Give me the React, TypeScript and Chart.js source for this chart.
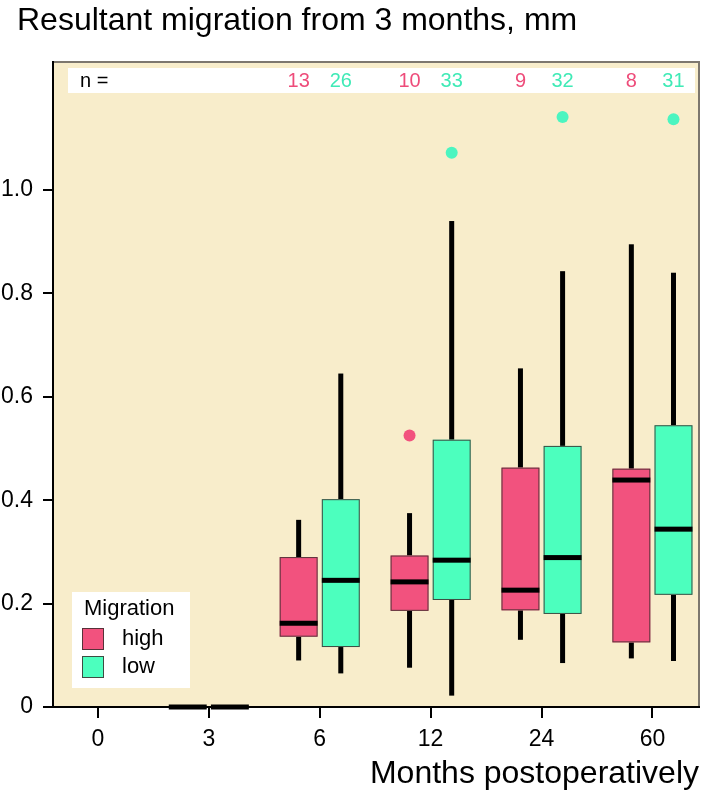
import React, { useEffect, useRef } from 'react';
import { Chart, registerables } from 'chart.js';

Chart.register(...registerables);

// ---------- data ----------
const categories = ['0', '3', '6', '12', '24', '60'];
const yTicks = [0, 0.2, 0.4, 0.6, 0.8, 1.0];

// Migration: high
const highMin = [null, 0, 0.09, 0.076, 0.13, 0.094];
const highQ1 = [null, 0, 0.136, 0.186, 0.187, 0.125];
const highMedian = [null, 0, 0.162, 0.242, 0.226, 0.439];
const highQ3 = [null, 0, 0.29, 0.293, 0.463, 0.461];
const highMax = [null, 0, 0.362, 0.375, 0.655, 0.895];
const highOutlierCat = [3];
const highOutlierVal = [0.525];
const highN = [null, null, 13, 10, 9, 8];

// Migration: low
const lowMin = [null, 0, 0.065, 0.022, 0.085, 0.089];
const lowQ1 = [null, 0, 0.116, 0.207, 0.18, 0.217];
const lowMedian = [null, 0, 0.245, 0.284, 0.289, 0.344];
const lowQ3 = [null, 0, 0.402, 0.517, 0.505, 0.545];
const lowMax = [null, 0, 0.645, 0.94, 0.843, 0.84];
const lowOutlierCat = [3, 4, 5];
const lowOutlierVal = [1.072, 1.141, 1.137];
const lowN = [null, null, 26, 33, 32, 31];

const TITLE = 'Resultant migration from 3 months, mm';
const X_TITLE = 'Months postoperatively';
const LEGEND_TITLE = 'Migration';
const seriesNames = ['high', 'low'];

// ---------- styles ----------
const FONT = '"Liberation Sans", Arial, Helvetica, sans-serif';
const PINK = '#F2527E';
const GREEN = '#4CFFBE';
const PINK_TEXT = '#EE4C7A';
const GREEN_TEXT = '#3FEAB6';
const BG = '#F8EDCB';
const OFFSET = 0.19;
const BOX_W = 0.342;

const series = [
  { name: seriesNames[0], color: PINK, text: PINK_TEXT, off: -OFFSET, min: highMin, q1: highQ1, med: highMedian, q3: highQ3, max: highMax, n: highN },
  { name: seriesNames[1], color: GREEN, text: GREEN_TEXT, off: OFFSET, min: lowMin, q1: lowQ1, med: lowMedian, q3: lowQ3, max: lowMax, n: lowN },
];

const boxPlugin = {
  id: 'boxplotDraw',
  beforeDraw(chart: any) {
    const { ctx, chartArea: a } = chart;
    ctx.save();
    ctx.fillStyle = '#fff';
    ctx.fillRect(0, 0, chart.width, chart.height);
    ctx.fillStyle = BG;
    ctx.fillRect(a.left, a.top, a.right - a.left, a.bottom - a.top);
    ctx.strokeStyle = '#7d776e';
    ctx.lineWidth = 2;
    ctx.beginPath();
    ctx.moveTo(a.left, a.top);
    ctx.lineTo(a.right, a.top);
    ctx.lineTo(a.right, a.bottom);
    ctx.stroke();
    // title
    ctx.fillStyle = '#000';
    ctx.font = `32px ${FONT}`;
    ctx.textAlign = 'left';
    ctx.textBaseline = 'alphabetic';
    ctx.fillText(TITLE, 17, 30);
    ctx.restore();
  },
  beforeDatasetsDraw(chart: any) {
    const { ctx, scales } = chart;
    const x = scales.x;
    const y = scales.y;
    ctx.save();
    // n strip
    ctx.fillStyle = '#fff';
    ctx.fillRect(68, 68, 627, 25);
    ctx.fillStyle = '#000';
    ctx.font = `20px ${FONT}`;
    ctx.textBaseline = 'middle';
    ctx.textAlign = 'left';
    ctx.fillText('n =', 80, 81);
    ctx.textAlign = 'center';
    series.forEach((s) => {
      s.n.forEach((n, i) => {
        if (n == null) return;
        ctx.fillStyle = s.text;
        ctx.fillText(String(n), x.getPixelForValue(i + s.off), 81);
      });
    });
    // boxes
    series.forEach((s) => {
      for (let i = 0; i < categories.length; i++) {
        if (s.med[i] == null) continue;
        const cx = x.getPixelForValue(i + s.off);
        const l = x.getPixelForValue(i + s.off - BOX_W / 2);
        const r = x.getPixelForValue(i + s.off + BOX_W / 2);
        const yMin = y.getPixelForValue(s.min[i] as number);
        const yQ1 = y.getPixelForValue(s.q1[i] as number);
        const yMed = y.getPixelForValue(s.med[i] as number);
        const yQ3 = y.getPixelForValue(s.q3[i] as number);
        const yMax = y.getPixelForValue(s.max[i] as number);
        ctx.fillStyle = '#000';
        ctx.fillRect(cx - 2.5, yMax, 5, yQ3 - yMax);
        ctx.fillRect(cx - 2.5, yQ1, 5, yMin - yQ1);
        if (yQ1 - yQ3 > 0.5) {
          ctx.fillStyle = s.color;
          ctx.fillRect(l, yQ3, r - l, yQ1 - yQ3);
          ctx.strokeStyle = 'rgba(60,45,45,0.85)';
          ctx.lineWidth = 1;
          ctx.strokeRect(l + 0.5, yQ3 + 0.5, r - l - 1, yQ1 - yQ3 - 1);
        }
        ctx.fillStyle = '#000';
        ctx.fillRect(l, yMed - 2.5, r - l, 5);
      }
    });
    ctx.restore();
  },
  afterDraw(chart: any) {
    const { ctx } = chart;
    ctx.save();
    ctx.fillStyle = '#fff';
    ctx.fillRect(72, 592, 118, 96);
    ctx.fillStyle = '#000';
    ctx.font = `22px ${FONT}`;
    ctx.textAlign = 'left';
    ctx.textBaseline = 'middle';
    ctx.fillText(LEGEND_TITLE, 84, 609);
    series.forEach((s, k) => {
      const top = 628 + k * 28;
      ctx.fillStyle = s.color;
      ctx.fillRect(82, top, 22, 22);
      ctx.strokeStyle = 'rgba(60,45,45,0.85)';
      ctx.lineWidth = 1;
      ctx.strokeRect(82.5, top + 0.5, 21, 21);
      ctx.fillStyle = '#000';
      ctx.font = `22px ${FONT}`;
      ctx.fillText(s.name, 122, top + 11);
    });
    ctx.restore();
  },
};

export default function App() {
  const ref = useRef<HTMLCanvasElement | null>(null);
  useEffect(() => {
    if (!ref.current) return;
    const chart = new Chart(ref.current, {
      type: 'scatter',
      data: {
        datasets: [
          {
            label: seriesNames[0],
            data: highOutlierCat.map((c, i) => ({ x: c - OFFSET, y: highOutlierVal[i] })),
            backgroundColor: PINK,
            borderWidth: 0,
            pointRadius: 6,
          },
          {
            label: seriesNames[1],
            data: lowOutlierCat.map((c, i) => ({ x: c + OFFSET, y: lowOutlierVal[i] })),
            backgroundColor: '#4CF5C0',
            borderWidth: 0,
            pointRadius: 6,
          },
        ],
      },
      options: {
        animation: false,
        responsive: false,
        events: [],
        layout: { padding: { top: 62, left: 0, right: 5, bottom: 0 } },
        plugins: { legend: { display: false }, tooltip: { enabled: false }, title: { display: false } },
        scales: {
          x: {
            type: 'linear',
            min: -0.405,
            max: 5.42,
            afterBuildTicks: (s: any) => {
              s.ticks = categories.map((_, i) => ({ value: i }));
            },
            afterFit: (s: any) => {
              s.height = 90;
            },
            ticks: {
              callback: (_v: any, i: number) => categories[i],
              font: { family: FONT, size: 23 },
              color: '#000',
              padding: 8,
              maxRotation: 0,
              autoSkip: false,
            },
            grid: { drawOnChartArea: false, drawTicks: true, tickLength: 11, color: '#000', tickColor: '#000', tickWidth: 2, lineWidth: 2 },
            border: { display: true, color: '#000', width: 2 },
            title: {
              display: true,
              text: X_TITLE,
              align: 'end',
              color: '#000',
              font: { family: FONT, size: 32 },
              padding: { top: 0, bottom: 4 },
            },
          },
          y: {
            type: 'linear',
            min: 0,
            max: 1.2476,
            afterBuildTicks: (s: any) => {
              s.ticks = yTicks.map((v) => ({ value: v }));
            },
            afterFit: (s: any) => {
              s.width = 53;
            },
            ticks: {
              callback: (v: any) => (v === 0 ? '0' : Number(v).toFixed(1)),
              font: { family: FONT, size: 23 },
              color: '#000',
              padding: 10,
            },
            grid: { drawOnChartArea: false, drawTicks: true, tickLength: 10, color: '#000', tickColor: '#000', tickWidth: 2, lineWidth: 2 },
            border: { display: true, color: '#000', width: 2 },
          },
        },
      } as any,
      plugins: [boxPlugin],
    });
    return () => chart.destroy();
  }, []);
  return (
    <div style={{ position: 'fixed', left: 0, top: 0, width: 705, height: 797, background: '#fff' }}>
      <canvas ref={ref} width={705} height={797} style={{ display: 'block' }} />
    </div>
  );
}
